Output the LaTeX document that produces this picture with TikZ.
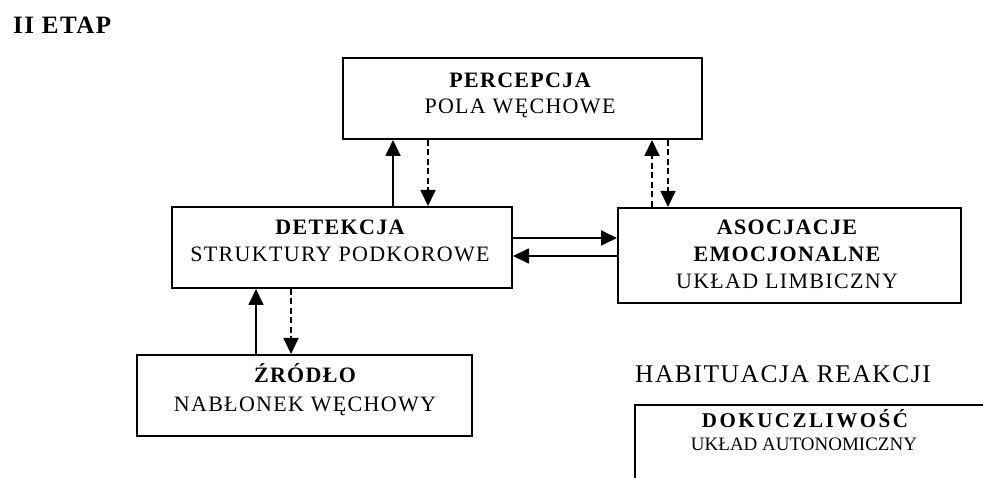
\documentclass[tikz,border=0pt]{standalone}
\usepackage{fontspec}
\setmainfont{Liberation Serif}[LetterSpace=6]
\usetikzlibrary{arrows.meta}
\begin{document}
\begin{tikzpicture}[x=1pt,y=-1pt,
  boxn/.style={draw=black, line width=2pt, rectangle, inner sep=0pt},
  lbl/.style={anchor=base, inner sep=0pt, font=\fontsize{22}{26}\selectfont},
  blbl/.style={anchor=base, inner sep=0pt, font=\fontsize{22}{26}\selectfont\bfseries},
  slbl/.style={anchor=base, inner sep=0pt, font=\fontsize{19}{23}\selectfont\addfontfeatures{LetterSpace=0}},
  sblbl/.style={anchor=base, inner sep=0pt, font=\fontsize{21}{25}\selectfont\bfseries\addfontfeatures{LetterSpace=12}},
  arr/.style={line width=1.8pt, -{Triangle[length=16pt,width=15pt]}},
  darr/.style={arr, dash pattern=on 6pt off 3.5pt}]
\useasboundingbox (0,0) rectangle (983,478);
\clip (0,0) rectangle (983,478);

% title
\node[anchor=base west, inner sep=0pt, font=\fontsize{25}{30}\selectfont\bfseries] (title) at (13,34) {II ETAP};

% boxes
\node[boxn, minimum width=359pt, minimum height=81pt] (perc) at (522.5,98.5) {};
\node[boxn, minimum width=340pt, minimum height=81pt] (det) at (342,247.5) {};
\node[boxn, minimum width=343pt, minimum height=95pt] (aso) at (789.5,255.5) {};
\node[boxn, minimum width=335pt, minimum height=81pt] (zro) at (304.5,395.5) {};
\node[boxn, minimum width=365pt, minimum height=95pt] (dok) at (817.5,452.5) {};

% labels
\node[blbl] (percA) at (520,88) {PERCEPCJA};
\node[lbl] (percB) at (520,114) {POLA WĘCHOWE};
\node[blbl] (detA) at (340,235) {DETEKCJA};
\node[lbl] (detB) at (340,262) {STRUKTURY PODKOROWE};
\node[blbl] (asoA) at (787,235) {ASOCJACJE};
\node[blbl] (asoB) at (787,262) {EMOCJONALNE};
\node[lbl] (asoC) at (787,289) {UKŁAD LIMBICZNY};
\node[blbl] (zroA) at (305,382) {ŹRÓDŁO};
\node[lbl] (zroB) at (305,411) {NABŁONEK WĘCHOWY};
\node[anchor=base, inner sep=0pt, font=\fontsize{25.5}{30}\selectfont] (hab) at (783,382) {HABITUACJA REAKCJI};
\node[sblbl] (dokA) at (805,428) {DOKUCZLIWOŚĆ};
\node[slbl] (dokB) at (804,450) {UKŁAD AUTONOMICZNY};

% connector columns / rows
\coordinate (c1) at (393,0);
\coordinate (c2) at (428,0);
\coordinate (c3) at (652,0);
\coordinate (c4) at (668,0);
\coordinate (c5) at (256,0);
\coordinate (c6) at (291,0);
\coordinate (r1) at (0,238);
\coordinate (r2) at (0,256);

\draw[arr]  (c1 |- det.north) -- (c1 |- perc.south);
\draw[darr] (c2 |- perc.south) -- (c2 |- det.north);
\draw[darr] (c3 |- aso.north) -- (c3 |- perc.south);
\draw[darr] (c4 |- perc.south) -- (c4 |- aso.north);
\draw[arr]  (det.east |- r1) -- (aso.west |- r1);
\draw[arr]  (aso.west |- r2) -- (det.east |- r2);
\draw[arr]  (c5 |- zro.north) -- (c5 |- det.south);
\draw[darr] (c6 |- det.south) -- (c6 |- zro.north);
\end{tikzpicture}
\end{document}
